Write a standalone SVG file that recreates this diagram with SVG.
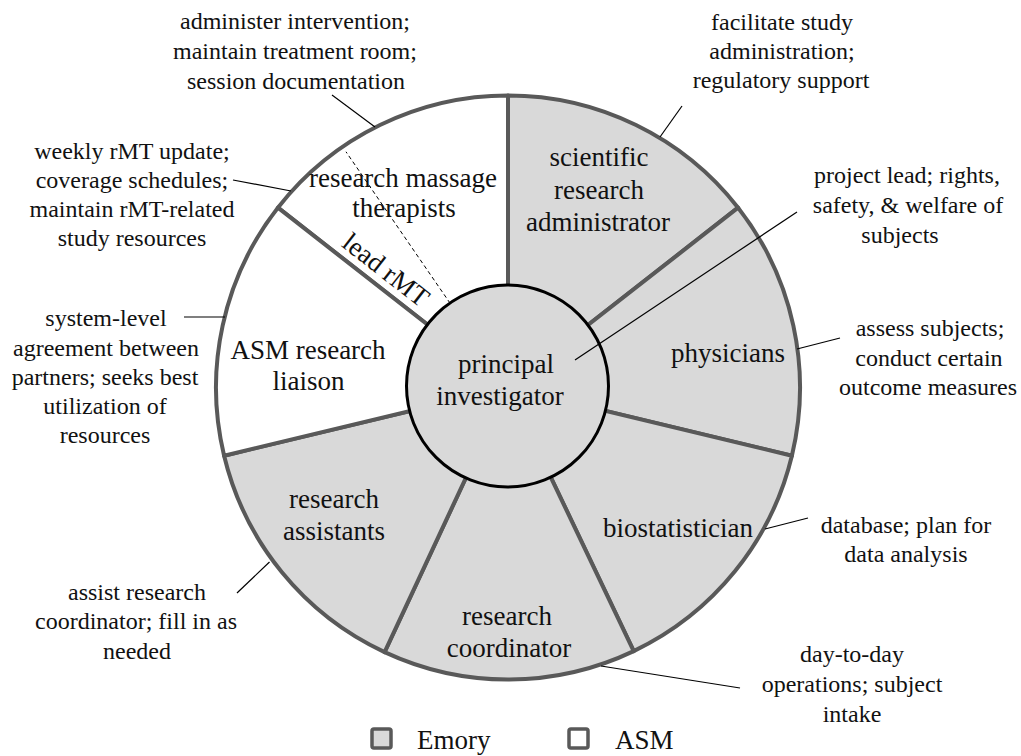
<svg xmlns="http://www.w3.org/2000/svg" width="1021" height="756" viewBox="0 0 1021 756">
<style>
.seg{stroke:#595959;stroke-width:4;stroke-linejoin:round}
.emory{fill:#d9d9d9}
.asm{fill:#ffffff}
.lbl{font-size:27px;fill:#111;text-anchor:middle}
.note{font-size:24px;fill:#111;text-anchor:middle}
.lead{stroke:#000;stroke-width:1.2;fill:none}
.key{stroke:#595959;stroke-width:3.5}
</style>
<rect width="1021" height="756" fill="#ffffff"/>
<g font-family="'Liberation Serif', 'DejaVu Serif', serif">

<g id="research-massage-therapists">
<path class="seg asm" d="M508 387.5 L277.9 207.7 A292 292 0 0 1 508 95.5 Z"/>
<line x1="450.2" y1="303.4" x2="346" y2="151.8" stroke="#000" stroke-width="1" stroke-dasharray="4 3"/>
<text class="lbl" x="403" y="187">research massage</text>
<text class="lbl" x="404" y="217">therapists</text>
<text class="lbl" x="380.5" y="277" transform="rotate(38 380.5 277)">lead rMT</text>
</g>

<g id="scientific-research-administrator">
<path class="seg emory" d="M508 387.5 L508 95.5 A292 292 0 0 1 738.1 207.7 Z"/>
<text class="lbl" x="599" y="166">scientific</text>
<text class="lbl" x="599" y="198.5">research</text>
<text class="lbl" x="598" y="231">administrator</text>
</g>

<g id="physicians">
<path class="seg emory" d="M508 387.5 L738.1 207.7 A292 292 0 0 1 791.9 455.7 Z"/>
<text class="lbl" x="728" y="362">physicians</text>
</g>

<g id="biostatistician">
<path class="seg emory" d="M508 387.5 L791.9 455.7 A292 292 0 0 1 633.7 651.1 Z"/>
<text class="lbl" x="678" y="537">biostatistician</text>
</g>

<g id="research-coordinator">
<path class="seg emory" d="M508 387.5 L633.7 651.1 A292 292 0 0 1 384.6 652.1 Z"/>
<text class="lbl" x="507" y="625">research</text>
<text class="lbl" x="509" y="657">coordinator</text>
</g>

<g id="research-assistants">
<path class="seg emory" d="M508 387.5 L384.6 652.1 A292 292 0 0 1 224.1 455.7 Z"/>
<text class="lbl" x="334" y="508">research</text>
<text class="lbl" x="334" y="540">assistants</text>
</g>

<g id="asm-research-liaison">
<path class="seg asm" d="M508 387.5 L224.1 455.7 A292 292 0 0 1 277.9 207.7 Z"/>
<text class="lbl" x="308" y="359">ASM research</text>
<text class="lbl" x="308.5" y="390">liaison</text>
</g>

<g id="principal-investigator">
<circle cx="507.5" cy="386" r="101" fill="#d9d9d9" stroke="#000" stroke-width="3"/>
<text class="lbl" x="506" y="373">principal</text>
<text class="lbl" x="500" y="405">investigator</text>
</g>

<g id="connectors">
<line class="lead" x1="332" y1="95" x2="375" y2="127"/>
<line class="lead" x1="233" y1="180" x2="291" y2="191"/>
<line class="lead" x1="184" y1="317" x2="225" y2="317"/>
<line class="lead" x1="682" y1="106" x2="660" y2="137"/>
<line class="lead" x1="797" y1="212" x2="575" y2="360"/>
<line class="lead" x1="840" y1="338" x2="797" y2="349"/>
<line class="lead" x1="808" y1="518" x2="765" y2="529"/>
<line class="lead" x1="740" y1="688" x2="601" y2="666"/>
<line class="lead" x1="237" y1="593" x2="269.5" y2="562"/>
</g>

<g id="notes">
<text class="note" x="295" y="29">administer intervention;</text>
<text class="note" x="295" y="59">maintain treatment room;</text>
<text class="note" x="296" y="89">session documentation</text>

<text class="note" x="132" y="159">weekly rMT update;</text>
<text class="note" x="132" y="188">coverage schedules;</text>
<text class="note" x="132" y="217">maintain rMT-related</text>
<text class="note" x="132" y="246">study resources</text>

<text class="note" x="106" y="326">system-level</text>
<text class="note" x="106" y="355.5">agreement between</text>
<text class="note" x="105" y="385">partners; seeks best</text>
<text class="note" x="105" y="414">utilization of</text>
<text class="note" x="105" y="443">resources</text>

<text class="note" x="782" y="30">facilitate study</text>
<text class="note" x="782" y="59">administration;</text>
<text class="note" x="781" y="88">regulatory support</text>

<text class="note" x="907" y="183">project lead; rights,</text>
<text class="note" x="908" y="213">safety, &amp; welfare of</text>
<text class="note" x="900" y="243">subjects</text>

<text class="note" x="930" y="336">assess subjects;</text>
<text class="note" x="929" y="366">conduct certain</text>
<text class="note" x="928" y="395">outcome measures</text>

<text class="note" x="906" y="533">database; plan for</text>
<text class="note" x="906" y="562">data analysis</text>

<text class="note" x="852" y="662">day-to-day</text>
<text class="note" x="852" y="692">operations; subject</text>
<text class="note" x="852" y="722">intake</text>

<text class="note" x="137" y="600">assist research</text>
<text class="note" x="136" y="629">coordinator; fill in as</text>
<text class="note" x="137" y="659">needed</text>
</g>

<g id="legend">
<rect class="key emory" x="372" y="729" width="19" height="19" rx="2"/>
<text class="lbl" x="417" y="749" style="text-anchor:start">Emory</text>
<rect class="key asm" x="569" y="729" width="19" height="19" rx="2"/>
<text class="lbl" x="615" y="749" style="text-anchor:start">ASM</text>
</g>
</g>
</svg>
